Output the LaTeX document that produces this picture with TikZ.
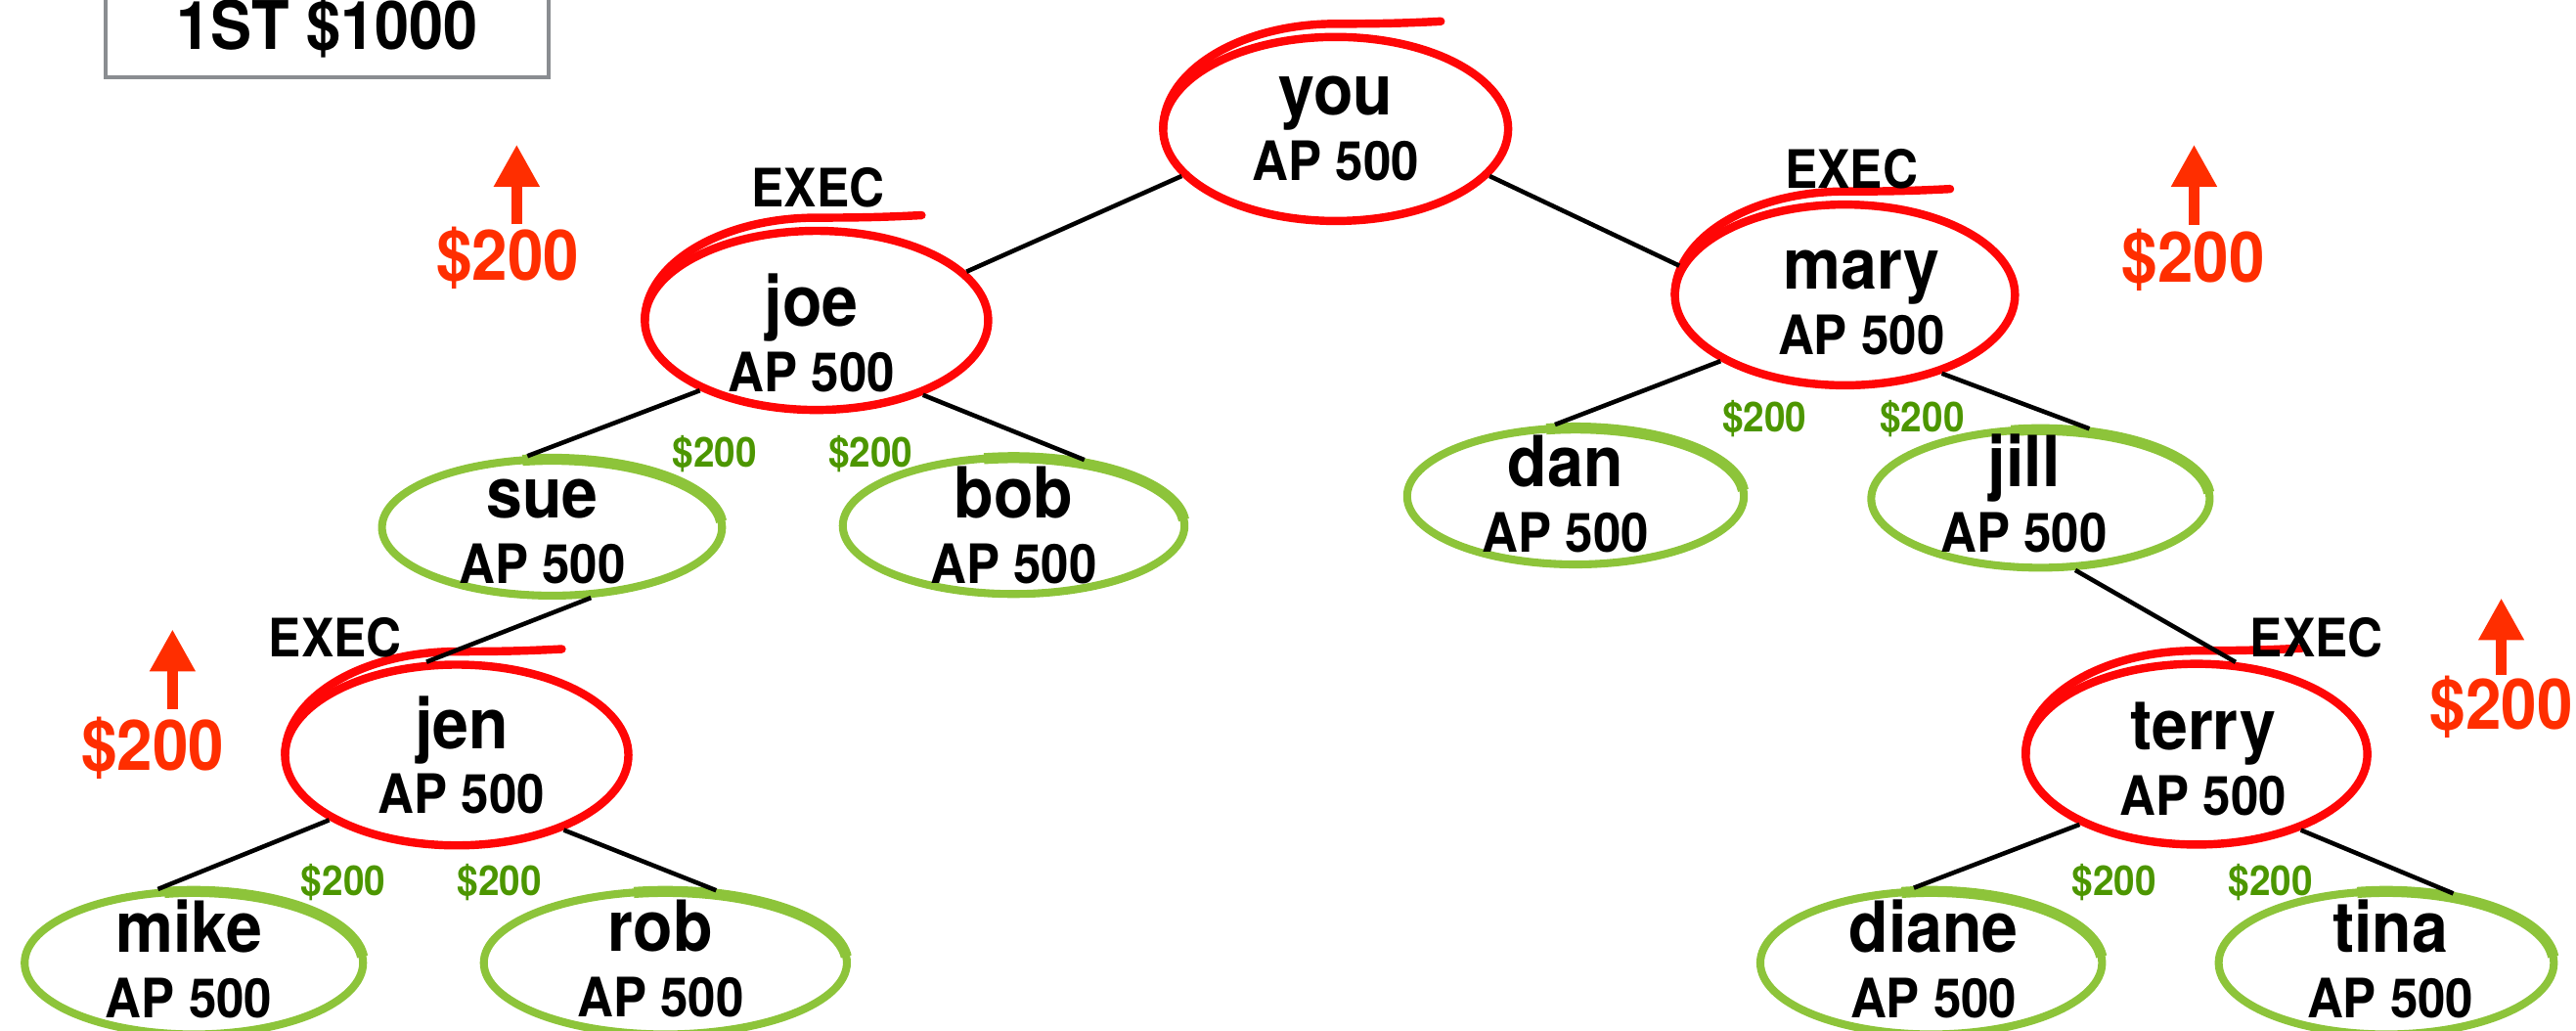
\documentclass[tikz,border=0pt]{standalone}
\usepackage{fontspec}
\setmainfont{TeX Gyre Heros}[FakeStretch=0.92]
\usetikzlibrary{calc, shapes.geometric, arrows.meta}
\definecolor{ringred}{RGB}{255,6,6}
\definecolor{ringgreen}{RGB}{141,196,58}
\definecolor{cashgreen}{RGB}{76,150,0}
\definecolor{bonusred}{RGB}{255,46,0}
\definecolor{boxgray}{RGB}{138,141,145}
\newcommand{\pxu}{0.016798cm}
\newcommand{\namefont}{\fontsize{20.5}{19}\selectfont\bfseries}
\newcommand{\apfont}{\fontsize{15.8}{19}\selectfont\bfseries}
\newcommand{\ap}{{\apfont AP 500}}
\tikzstyle{person}   = [align=center, inner sep=0pt, font=\namefont]
\tikzstyle{redring}  = [draw=ringred, line width=2.4pt, ellipse, inner sep=0pt]
\tikzstyle{greenring}= [draw=ringgreen, line width=2.3pt, ellipse, inner sep=0pt]
\tikzstyle{link}     = [line width=1.3pt, black]
\tikzstyle{exec}     = [inner sep=0pt, font=\fontsize{15.4}{16}\selectfont\bfseries]
\tikzstyle{cash}     = [inner sep=0pt, text=cashgreen, font=\fontsize{12}{12}\selectfont\bfseries]
\tikzstyle{bonus}    = [inner sep=0pt, text=bonusred, font=\fontsize{20.3}{20}\selectfont\bfseries]
\tikzstyle{uparrow}  = [bonusred, line width=3pt, -{Triangle[width=0.44cm,length=0.43cm]}]
\tikzstyle{prizebox} = [draw=boxgray, line width=1.15pt, minimum width=269.4*\pxu, minimum height=60*\pxu,
                        font=\fontsize{19.5}{20}\selectfont\bfseries]
% overshoot of a hand drawn red ring
\newcommand{\ringtail}[3]{%
  \draw[ringred, line width=2.4pt, line cap=round] ($(#1.center)+({-#2/2*\pxu},0)$)
    arc[start angle=180, end angle=90, x radius={#2/2*\pxu}, y radius={(#3/2+8)*\pxu}]
    .. controls +({30*\pxu},0) and +({-20*\pxu},{-1*\pxu}) .. +({64*\pxu},{1.5*\pxu});}
% thicker overlap where a green ring was closed
\newcommand{\ringlap}[3]{%
  \draw[ringgreen, line width=3.2pt]
    ($(#1.center)+({cos(100)*#2/2*\pxu},{sin(100)*#3/2*\pxu})$)
    arc[start angle=100, end angle=5, x radius={#2/2*\pxu}, y radius={#3/2*\pxu}];}

\begin{document}
\begin{tikzpicture}[x=\pxu, y=-\pxu]
  \useasboundingbox (0,0) rectangle (1568,627);

  \node[prizebox] (prize) at (199,17) {1ST \$1000};

  %execs with red rings
  \foreach \n/\rx/\ry/\tx/\ty/\w/\h in {you/813/78.5/813/74.5/210/112,
      joe/497/195/494/202.5/209/109, mary/1123/179.5/1133/180.5/207/110,
      jen/278/459.5/281/459.5/209/110, terry/1337/459/1341/460.5/208/110}{
    \node[redring, minimum width=\w*\pxu, minimum height=\h*\pxu] (\n) at (\rx,\ry) {};
    \node[person] (\n-lbl) at (\tx,\ty) {\rule{0pt}{15pt}\n\\\ap};
    \ringtail{\n}{\w}{\h}
  }

  %the others with green rings
  \foreach \n/\rx/\ry/\tx/\ty/\w/\h in {sue/336/321/330/319.5/207/83,
      bob/617/320/617/319.5/208/83, dan/959/302/953/300.5/205/83,
      jill/1242/303.5/1232/300.5/206/84, mike/118/586/115/583.5/206/87,
      rob/405/586/402/583.5/221/87, diane/1175.5/586/1177/583.5/208/87,
      tina/1452.5/586/1455/583.5/204/87}{
    \node[greenring, minimum width=\w*\pxu, minimum height=\h*\pxu] (\n) at (\rx,\ry) {};
    \ringlap{\n}{\w}{\h}
    \node[person] (\n-lbl) at (\tx,\ty) {\rule{0pt}{15pt}\n\\\ap};
  }

  %tree lines
  \foreach \a/\b in {you.197/joe.18, you.-17/mary.170, joe.211/sue.109,
      joe.-35/bob.43, mary.208/dan.106, mary.-39/jill.55, sue.-61/jen.108,
      jill.-64/terry.67, jen.207/mike.116, jen.-35/rob.55,
      terry.211/diane.103, terry.-36/tina.46}{
    \draw[link] (\a) -- (\b);
  }

  \node[exec] (exec1) at (498,114) {EXEC};
  \node[exec] (exec2) at (1127,103) {EXEC};
  \node[exec] (exec3) at (204,388) {EXEC};
  \node[exec] (exec4) at (1410,388) {EXEC};

  \foreach \x/\y [count=\i] in {435/276, 530/276, 1074/255, 1170/255,
      209/537, 304/537, 1287/537, 1382/537}{
    \node[cash] (cash\i) at (\x,\y) {\$200};
  }

  %bonus arrows
  \foreach \x/\y/\ax/\atip/\abase [count=\i] in {309/157/314.5/88/136.5,
      1335/158/1335.5/88/137, 93/455/105/383/431.5, 1522.5/430.5/1522.5/364/411}{
    \node[bonus] (bonus\i) at (\x,\y) {\$200};
    \coordinate (tip\i) at (\ax,\atip);
    \coordinate (base\i) at (\ax,\abase);
    \draw[uparrow] (base\i) -- (tip\i);
  }
\end{tikzpicture}
\end{document}
